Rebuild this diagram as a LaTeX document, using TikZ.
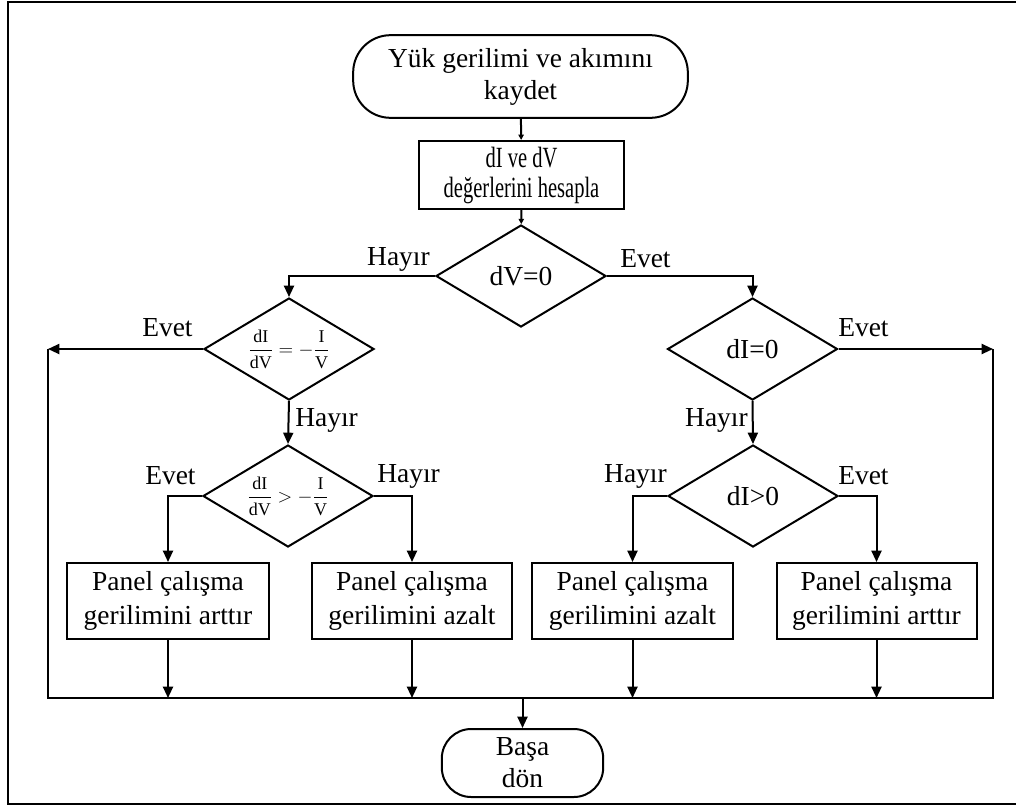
\documentclass[tikz,border=0pt]{standalone}
\usepackage{amsmath}
\usepackage{fontspec}
\setmainfont{Liberation Serif}
\newfontfamily\narrowserif{Liberation Serif}[FakeStretch=0.7]
\usetikzlibrary{shapes.geometric,arrows.meta}

\tikzset{
  txt/.style={font=\fontsize{20.6pt}{24pt}\selectfont},
  term/.style={txt, draw, line width=1.5pt, rounded corners=28pt, align=center, inner sep=0pt},
  proc/.style={txt, draw, line width=1.5pt, align=center, inner sep=0pt},
  dec/.style={txt, draw, diamond, aspect=1.67, line width=1.5pt, align=center, inner sep=0pt, minimum width=127.5pt, minimum height=76.5pt},
  lbl/.style={txt, inner sep=0pt},
  line/.style={line width=1.5pt},
  arr/.style={line width=1.5pt, -{Triangle[length=8.5pt,width=7.5pt]}},
  smallarr/.style={line width=1.5pt, -{Triangle[length=4pt,width=4pt]}}
}

\begin{document}
\begin{tikzpicture}[x=0.75pt,y=0.75pt,yscale=-1,xscale=1]
\useasboundingbox (0,0) rectangle (1016,807);

\draw [line width=2pt] (1030,2) -- (8,2) -- (8,804) -- (1030,804);

\draw (520.5,76.5) node [term, minimum width=251pt, minimum height=62pt] (start) {Yük gerilimi ve akımını\\kaydet};
\draw (521.5,175) node [proc, minimum width=154pt, minimum height=51pt, font=\narrowserif\fontsize{22pt}{22.5pt}\selectfont] (calc) {dI ve dV\\değerlerini hesapla};
\draw (521,276) node [dec] (dv) {dV=0};
\draw (289,349) node [dec, font=\fontsize{13.5pt}{16pt}\selectfont] (eq) {$\dfrac{\text{dI}}{\text{dV}}=-\dfrac{\text{I}}{\text{V}}$};
\draw (752.5,349) node [dec] (di) {dI=0};
\draw (288,496) node [dec, font=\fontsize{13.5pt}{16pt}\selectfont] (gt) {$\dfrac{\text{dI}}{\text{dV}}>-\dfrac{\text{I}}{\text{V}}$};
\draw (753,496) node [dec] (gp) {dI>0};

\draw (168,601) node [proc, minimum width=151.5pt, minimum height=57pt, font=\fontsize{20.6pt}{26pt}\selectfont] (p1) {Panel çalışma\\gerilimini arttır};
\draw (412,601) node [proc, minimum width=150pt, minimum height=57pt, font=\fontsize{20.6pt}{26pt}\selectfont] (p2) {Panel çalışma\\gerilimini azalt};
\draw (632.5,601) node [proc, minimum width=150.5pt, minimum height=57pt, font=\fontsize{20.6pt}{26pt}\selectfont] (p3) {Panel çalışma\\gerilimini azalt};
\draw (876.5,601) node [proc, minimum width=150pt, minimum height=57pt, font=\fontsize{20.6pt}{26pt}\selectfont] (p4) {Panel çalışma\\gerilimini arttır};

\draw (522.5,763) node [term, minimum width=121pt, minimum height=51pt, rounded corners=22pt] (end) {Başa\\dön};

\coordinate (lt) at (48,349);
\coordinate (lb) at (48,698);
\coordinate (rb) at (993,698);
\coordinate (rt) at (993,349);

\draw [smallarr] (start) -- (calc);
\draw [smallarr] (calc) -- (dv);
\draw [arr] (dv.west) -| (eq.north);
\draw [arr] (dv.east) -| (di.north);
\draw [arr] (eq.west) -- (lt);
\draw [arr] (di.east) -- (rt);
\draw [arr] (eq.south) -- (gt.north);
\draw [arr] (di.south) -- (gp.north);
\draw [arr] (gt.west) -| (p1.north);
\draw [arr] (gt.east) -| (p2.north);
\draw [arr] (gp.west) -| (p3.north);
\draw [arr] (gp.east) -| (p4.north);
\draw [line] (lt) -- (lb) -- (rb) -- (rt);
\draw [arr] (p1.south) -- (p1.south |- lb);
\draw [arr] (p2.south) -- (p2.south |- lb);
\draw [arr] (p3.south) -- (p3.south |- lb);
\draw [arr] (p4.south) -- (p4.south |- lb);
\draw [arr] (end.north |- lb) -- (end.north);

\draw (430,259) node [lbl, anchor=east] (hv) {Hayır};
\draw (620,259) node [lbl, anchor=west] (ev) {Evet};
\draw (142,328) node [lbl, anchor=west] (eeq) {Evet};
\draw (838,328) node [lbl, anchor=west] (edi) {Evet};
\draw (295,420) node [lbl, anchor=west] (heq) {Hayır};
\draw (748,420) node [lbl, anchor=east] (hdi) {Hayır};
\draw (145,476) node [lbl, anchor=west] (egt) {Evet};
\draw (377,476) node [lbl, anchor=west] (hgt) {Hayır};
\draw (667,476) node [lbl, anchor=east] (hgp) {Hayır};
\draw (838,476) node [lbl, anchor=west] (egp) {Evet};

\end{tikzpicture}
\end{document}
